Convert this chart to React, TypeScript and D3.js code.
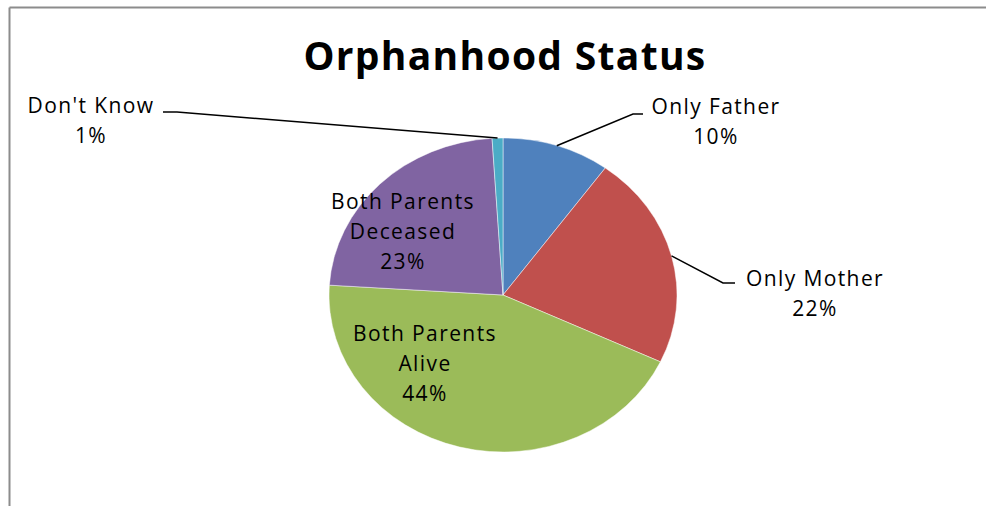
import React from 'react';
import * as d3 from 'd3';

// slice data, clockwise from 12 o'clock
const categories = ['Only Father', 'Only Mother', 'Both Parents Alive', 'Both Parents Deceased', "Don't Know"];
const values = [10, 22, 44, 23, 1];
const colors = ['#4F81BD', '#C0504D', '#9BBB59', '#8064A2', '#4BACC6'];
const labelLines = [
  ['Only Father', '10%'],
  ['Only Mother', '22%'],
  ['Both Parents', 'Alive', '44%'],
  ['Both Parents', 'Deceased', '23%'],
  ["Don't Know", '1%'],
];

const W = 986;
const H = 506;
const cx = 503;
const cy = 295;
const rx = 174;
const ry = 157;

// label anchor (center of first line) and optional leader elbow
const labelPos: { x: number; y: number; elbow?: [number, number][] }[] = [
  { x: 716, y: 114, elbow: [[633, 114], [643, 114]] },
  { x: 815, y: 286, elbow: [[723, 283], [735, 283]] },
  { x: 425, y: 341 },
  { x: 403, y: 209 },
  { x: 91, y: 113, elbow: [[177, 112], [163, 112]] },
];

const FONT = '"Open Sans", "Noto Sans", sans-serif';

export default function App() {
  const pie = d3.pie<number>().sort(null).value(d => d)(values);
  const arc = d3.arc<d3.PieArcDatum<number>>().innerRadius(0).outerRadius(rx);
  const sy = ry / rx;

  return (
    <svg width={W} height={H} style={{ display: 'block', position: 'absolute', left: 0, top: 0 }}>
      <rect x={0} y={0} width={W} height={H} fill="#fff" />
      {/* chart border (only top and left visible) */}
      <line x1={9.5} y1={7.5} x2={W} y2={7.5} stroke="#8c8c8c" strokeWidth={2} />
      <line x1={9.5} y1={7.5} x2={9.5} y2={H} stroke="#8c8c8c" strokeWidth={2} />

      <text x={505} y={70} textAnchor="middle" fontFamily={FONT} fontWeight="bold" fontSize={39} letterSpacing={1.3} fill="#000">
        Orphanhood Status
      </text>

      <g transform={`translate(${cx},${cy}) scale(1,${sy})`}>
        {pie.map((p, i) => (
          <path key={categories[i]} d={arc(p) || ''} fill={colors[i]} stroke="#fff" strokeWidth={0.5} />
        ))}
      </g>

      {pie.map((p, i) => {
        const lp = labelPos[i];
        if (!lp.elbow) return null;
        const mid = (p.startAngle + p.endAngle) / 2;
        const px = cx + rx * Math.sin(mid);
        const py = cy - ry * Math.cos(mid);
        const pts: [number, number][] = [[px, py], ...lp.elbow];
        return (
          <path key={'l' + i} d={d3.line()(pts) || ''} fill="none" stroke="#000" strokeWidth={1.5} />
        );
      })}

      {labelLines.map((lines, i) => (
        <text key={'t' + i} textAnchor="middle" fontFamily={FONT} fontSize={21} letterSpacing={1.4} fill="#000">
          {lines.map((s, j) => (
            <tspan key={j} x={labelPos[i].x} y={labelPos[i].y + j * 30}>
              {s}
            </tspan>
          ))}
        </text>
      ))}
    </svg>
  );
}
